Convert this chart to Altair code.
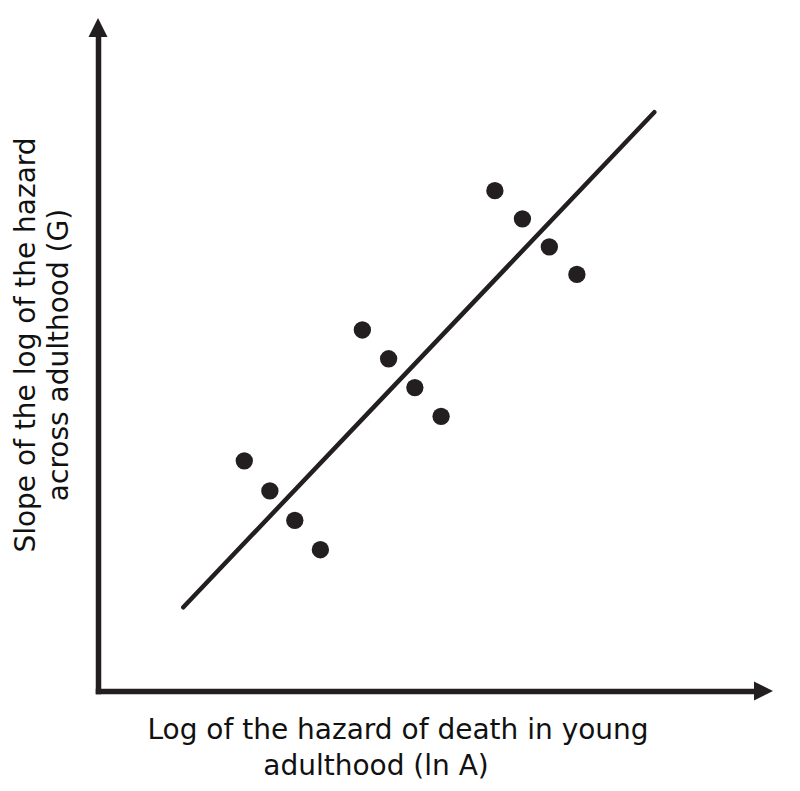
import altair as alt
import pandas as pd

# ---- data ----
ln_a = [2.23, 2.62, 3.00, 3.39, 4.03, 4.43, 4.83, 5.23, 6.05, 6.47, 6.88, 7.30]
g_slope = [3.52, 3.06, 2.61, 2.16, 5.52, 5.08, 4.64, 4.20, 7.65, 7.22, 6.79, 6.37]
fit_x = [1.30, 8.48]
fit_y = [1.28, 8.85]
x_title_lines = ["Log of the hazard of death in young", "adulthood (ln A)"]
y_title_lines = ["Slope of the log of the hazard", "across adulthood (G)"]

INK = "#231f20"
FONT = "DejaVu Sans"
W, H = 656, 654

pts = pd.DataFrame({"lnA": ln_a, "G": g_slope})
fit = pd.DataFrame({"lnA": fit_x, "G": fit_y})
one = pd.DataFrame({"k": [0]})

xscale = alt.Scale(domain=[0, 10], nice=False, zero=False)
yscale = alt.Scale(domain=[0, 10], nice=False, zero=False)
axis_style = dict(labels=False, ticks=False, grid=False, domainColor=INK,
                  domainWidth=5.5, domainCap="square", title=None)

points = alt.Chart(pts).mark_circle(size=300, color=INK, opacity=1).encode(
    x=alt.X("lnA:Q", scale=xscale, axis=alt.Axis(**axis_style)),
    y=alt.Y("G:Q", scale=yscale, axis=alt.Axis(**axis_style)),
)

line = alt.Chart(fit).mark_line(color=INK, strokeWidth=4.5, strokeCap="round").encode(
    x=alt.X("lnA:Q", scale=xscale),
    y=alt.Y("G:Q", scale=yscale),
)

arrow_up = alt.Chart(one).mark_point(
    shape="M-1,1L0,-1L1,1Z", filled=True, color=INK, opacity=1, size=361
).encode(x=alt.value(0), y=alt.value(-9.5))

arrow_right = alt.Chart(one).mark_point(
    shape="M-1,-1L1,0L-1,1Z", filled=True, color=INK, opacity=1, size=361
).encode(x=alt.value(W + 9.5), y=alt.value(H))

def text_line(txt, x, y, angle=0):
    return alt.Chart(pd.DataFrame({"t": [txt]})).mark_text(
        font=FONT, fontSize=28, color="#111111", align="center",
        baseline="alphabetic", angle=angle
    ).encode(text="t:N", x=alt.value(x), y=alt.value(y))

titles = [
    text_line(x_title_lines[0], 300, 702),
    text_line(x_title_lines[1], 278, 738),
    text_line(y_title_lines[0], -63, 308, 270),
    text_line(y_title_lines[1], -30, 318, 270),
]

chart = alt.layer(line, points, arrow_up, arrow_right, *titles).properties(
    width=W, height=H,
    background="white",
    autosize=alt.AutoSizeParams(type="none"),
    padding={"left": 90, "top": 29, "right": 28, "bottom": 92},
).configure_view(stroke="transparent", strokeWidth=0)

chart.save("out.html", embed_options={"renderer": "svg", "actions": False})
